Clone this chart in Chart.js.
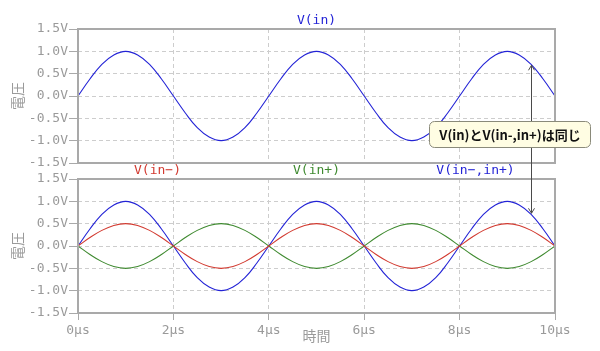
<!DOCTYPE html>
<html>
<head>
<meta charset="utf-8">
<script src="https://cdn.jsdelivr.net/npm/chart.js@4"></script>
<style>
  body { margin: 0; background: #fff; }
  #wrap { position: relative; width: 600px; height: 351px; }
  #wrap canvas { position: absolute; left: 0; top: 0; }
</style>
</head>
<body>
<div id="wrap">
  <canvas id="topChart" width="600" height="351"></canvas>
  <canvas id="bottomChart" width="600" height="351"></canvas>
</div>
<script>
// time axis in microseconds
const timeUs = [0, 0.25, 0.5, 0.75, 1, 1.25, 1.5, 1.75, 2, 2.25, 2.5, 2.75, 3, 3.25, 3.5, 3.75,
  4, 4.25, 4.5, 4.75, 5, 5.25, 5.5, 5.75, 6, 6.25, 6.5, 6.75, 7, 7.25, 7.5, 7.75,
  8, 8.25, 8.5, 8.75, 9, 9.25, 9.5, 9.75, 10];

const vIn = [0, 0.38, 0.71, 0.92, 1, 0.92, 0.71, 0.38, 0, -0.38, -0.71, -0.92, -1, -0.92, -0.71, -0.38,
  0, 0.38, 0.71, 0.92, 1, 0.92, 0.71, 0.38, 0, -0.38, -0.71, -0.92, -1, -0.92, -0.71, -0.38,
  0, 0.38, 0.71, 0.92, 1, 0.92, 0.71, 0.38, 0];

const vInMinus = [0, 0.19, 0.35, 0.46, 0.5, 0.46, 0.35, 0.19, 0, -0.19, -0.35, -0.46, -0.5, -0.46, -0.35, -0.19,
  0, 0.19, 0.35, 0.46, 0.5, 0.46, 0.35, 0.19, 0, -0.19, -0.35, -0.46, -0.5, -0.46, -0.35, -0.19,
  0, 0.19, 0.35, 0.46, 0.5, 0.46, 0.35, 0.19, 0];

const vInPlus = [0, -0.19, -0.35, -0.46, -0.5, -0.46, -0.35, -0.19, 0, 0.19, 0.35, 0.46, 0.5, 0.46, 0.35, 0.19,
  0, -0.19, -0.35, -0.46, -0.5, -0.46, -0.35, -0.19, 0, 0.19, 0.35, 0.46, 0.5, 0.46, 0.35, 0.19,
  0, -0.19, -0.35, -0.46, -0.5, -0.46, -0.35, -0.19, 0];

const vInDiff = [0, 0.38, 0.71, 0.92, 1, 0.92, 0.71, 0.38, 0, -0.38, -0.71, -0.92, -1, -0.92, -0.71, -0.38,
  0, 0.38, 0.71, 0.92, 1, 0.92, 0.71, 0.38, 0, -0.38, -0.71, -0.92, -1, -0.92, -0.71, -0.38,
  0, 0.38, 0.71, 0.92, 1, 0.92, 0.71, 0.38, 0];

const yTickLabels = ['-1.5V', '-1.0V', '-0.5V', '0.0V', '0.5V', '1.0V', '1.5V'];
const xTickLabels = ['0µs', '2µs', '4µs', '6µs', '8µs', '10µs'];

const noteText = 'V(in)とV(in-,in+)は同じ';
const noteTime = 9.5;
const noteValue = 0.71;

const MONO = '"DejaVu Sans Mono", monospace';
const CJK = '"Noto Sans CJK JP", "Noto Sans", sans-serif';
const AXIS_GRAY = '#a9a9a9';
const TEXT_GRAY = '#9a9a9a';
const BLUE = '#2323d6';
const RED = '#d23a30';
const GREEN = '#3f8a30';

const points = (ys) => timeUs.map((t, i) => ({ x: t, y: ys[i] }));

const line = (label, ys, color) => ({
  label,
  data: points(ys),
  borderColor: color,
  borderWidth: 1.1,
  pointRadius: 0,
  tension: 0.4,
  fill: false,
});

// frame around the plot + trace names above it
const framePlugin = {
  id: 'frame',
  afterDraw(chart) {
    const { ctx, chartArea: a } = chart;
    ctx.save();
    ctx.strokeStyle = AXIS_GRAY;
    ctx.lineWidth = 2;
    ctx.strokeRect(a.left, a.top, a.right - a.left, a.bottom - a.top);

    const sets = chart.data.datasets;
    ctx.font = '13px ' + MONO;
    ctx.textAlign = 'center';
    ctx.textBaseline = 'middle';
    sets.forEach((ds, i) => {
      const x = a.left + (a.right - a.left) * (2 * i + 1) / (2 * sets.length);
      ctx.fillStyle = ds.borderColor;
      ctx.fillText(ds.label, x, a.top - 8);
    });
    ctx.restore();
  }
};

function makeOptions(opts) {
  return {
    responsive: false,
    animation: false,
    layout: { padding: opts.padding },
    plugins: { legend: { display: false }, tooltip: { enabled: false } },
    scales: {
      x: {
        type: 'linear',
        min: 0,
        max: 10,
        border: { display: false, dash: [4, 3] },
        grid: {
          color: '#cdcdcd',
          drawTicks: opts.showX,
          tickLength: 7,
          tickColor: AXIS_GRAY,
          tickBorderDash: [1, 0],
          tickWidth: 1,
        },
        ticks: {
          display: opts.showX,
          stepSize: 2,
          padding: 3,
          color: TEXT_GRAY,
          font: { family: MONO, size: 13 },
          maxRotation: 0,
          callback: (v, i) => xTickLabels[i],
        },
        title: {
          display: opts.showX,
          text: '時間',
          color: TEXT_GRAY,
          font: { family: CJK, size: 14 },
          padding: { top: 0, bottom: 7 },
        },
        afterFit(scale) { scale.height = opts.showX ? 38 : 0; },
      },
      y: {
        min: -1.5,
        max: 1.5,
        border: { display: false, dash: [4, 3] },
        grid: {
          color: '#cdcdcd',
          tickLength: 9,
          tickColor: AXIS_GRAY,
          tickBorderDash: [1, 0],
          tickWidth: 1,
        },
        ticks: {
          stepSize: 0.5,
          padding: 1,
          color: TEXT_GRAY,
          font: { family: MONO, size: 13 },
          callback: (v, i) => yTickLabels[i],
        },
        title: {
          display: true,
          text: '電圧',
          color: TEXT_GRAY,
          font: { family: CJK, size: 14 },
          padding: { top: 9, bottom: 0 },
        },
        afterFit(scale) { scale.width = 78; },
      },
    },
  };
}

const topChart = new Chart(document.getElementById('topChart'), {
  type: 'line',
  data: { datasets: [line('V(in)', vIn, BLUE)] },
  options: makeOptions({ padding: { left: 0, right: 45, top: 29, bottom: 188 }, showX: false }),
  plugins: [framePlugin],
});

// arrow between the two panes with the note box
const notePlugin = {
  id: 'note',
  afterDraw(chart) {
    const { ctx } = chart;
    const x = Math.round(topChart.scales.x.getPixelForValue(noteTime)) + 0.5;
    const y1 = topChart.scales.y.getPixelForValue(noteValue);
    const y2 = chart.scales.y.getPixelForValue(noteValue);
    ctx.save();
    ctx.strokeStyle = '#4a4a4a';
    ctx.lineWidth = 1;
    ctx.beginPath();
    ctx.moveTo(x, y1 + 1);
    ctx.lineTo(x, y2 - 1);
    // heads
    ctx.moveTo(x - 3, y1 + 6); ctx.lineTo(x, y1 + 1); ctx.lineTo(x + 3, y1 + 6);
    ctx.moveTo(x - 3, y2 - 6); ctx.lineTo(x, y2 - 1); ctx.lineTo(x + 3, y2 - 6);
    ctx.stroke();

    const bx = 429.5, by = 121.5, bw = 161, bh = 26, r = 5;
    ctx.beginPath();
    ctx.roundRect(bx, by, bw, bh, r);
    ctx.fillStyle = '#fffde3';
    ctx.fill();
    ctx.strokeStyle = '#8a8a7a';
    ctx.stroke();

    ctx.fillStyle = '#111';
    ctx.font = 'bold 13px ' + CJK;
    ctx.textAlign = 'center';
    ctx.textBaseline = 'middle';
    ctx.fillText(noteText, bx + bw / 2, by + bh / 2 + 1);
    ctx.restore();
  }
};

new Chart(document.getElementById('bottomChart'), {
  type: 'line',
  data: {
    datasets: [
      line('V(in−)', vInMinus, RED),
      line('V(in+)', vInPlus, GREEN),
      line('V(in−,in+)', vInDiff, BLUE),
    ],
  },
  options: makeOptions({ padding: { left: 0, right: 45, top: 179, bottom: 0 }, showX: true }),
  plugins: [framePlugin, notePlugin],
});
</script>
</body>
</html>
